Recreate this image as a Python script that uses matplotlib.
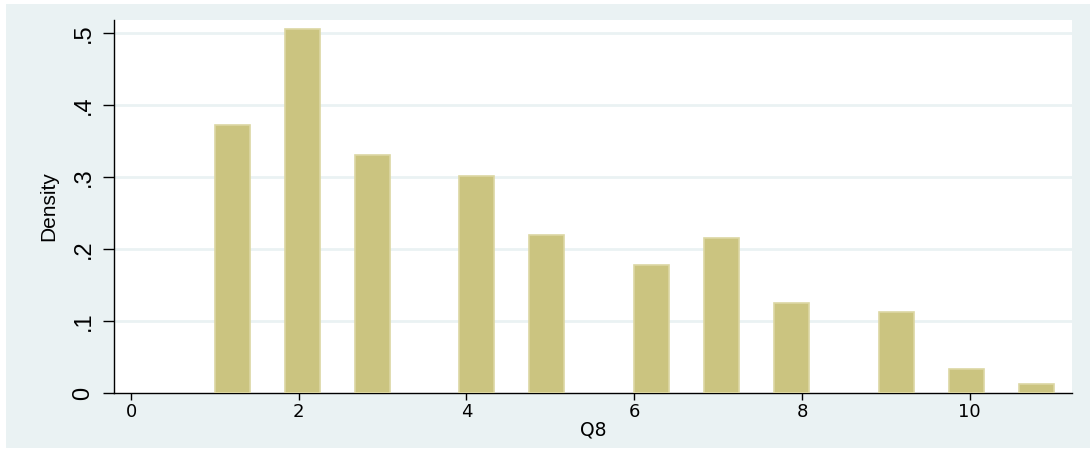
import numpy as np
import matplotlib
matplotlib.use("Agg")
import matplotlib.pyplot as plt
from matplotlib.patches import Rectangle

# Q8 answers (1..11) and their histogram density
q8 = np.array([1, 2, 3, 4, 5, 6, 7, 8, 9, 10, 11])
density = np.array([0.372, 0.505, 0.331, 0.301, 0.219, 0.178, 0.215, 0.125, 0.112, 0.034, 0.013])

x_ticks = [0, 2, 4, 6, 8, 10]
y_ticks = [0, 0.1, 0.2, 0.3, 0.4, 0.5]
y_labels = ["0", ".1", ".2", ".3", ".4", ".5"]

# 24 equal bins over the observed range, like the stata default
nbins = 24
lo, hi = 1, 11
edges = np.linspace(lo, hi, nbins + 1)
binw = (hi - lo) / nbins
idx = np.minimum(((q8 - lo) * nbins) // (hi - lo), nbins - 1)

bg = "#eaf2f3"
bar_fill = "#cbc480"
bar_edge = "#dcd7a3"

fig = plt.figure(figsize=(10.9, 4.5), dpi=100, facecolor="white")
# light outer panel, kept behind the axes
fig.patches.append(Rectangle((6 / 1090, 2 / 450), 1 - 6 / 1090, 1 - 6 / 450,
                             transform=fig.transFigure, facecolor=bg,
                             edgecolor="none", zorder=-1))

ax = fig.add_axes([114 / 1090, 1 - 393 / 450, (1072 - 114) / 1090, (393 - 20) / 450])
ax.set_zorder(1)
ax.set_facecolor("white")

ax.bar(edges[idx], density, width=binw, align="edge",
       color=bar_fill, edgecolor=bar_edge, linewidth=1.2, zorder=3)

for y in y_ticks[1:]:
    ax.axhline(y, color=bg, linewidth=2, zorder=1)

ax.set_xlim(-0.203, 11.22)
ax.set_ylim(0, 0.518)

for s in ["top", "right"]:
    ax.spines[s].set_visible(False)
for s in ["left", "bottom"]:
    ax.spines[s].set_color("black")
    ax.spines[s].set_linewidth(1.0)

ax.set_xticks(x_ticks)
ax.set_xticklabels([str(v) for v in x_ticks], fontsize=13, family="DejaVu Sans")
ax.set_yticks(y_ticks)
ax.set_yticklabels(y_labels, rotation=90, va="center",
                   fontsize=17, family="Liberation Sans")
ax.tick_params(axis="x", length=5, width=1, pad=2, colors="black")
ax.tick_params(axis="y", length=8, width=1, pad=6, colors="black")

ax.set_xlabel("Q8", fontsize=13.5, family="DejaVu Sans", labelpad=0)
ax.set_ylabel("Density", fontsize=15, family="Liberation Sans", labelpad=10)

fig.savefig("out.png", dpi=100, facecolor=fig.get_facecolor())
